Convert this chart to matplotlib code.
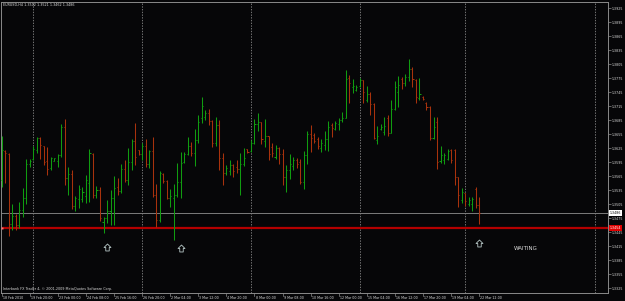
import matplotlib
matplotlib.use("Agg")
import matplotlib.pyplot as plt
import matplotlib.transforms as mtransforms
from matplotlib.path import Path

# EURUSD H4 bars, 18 Feb - 22 Mar 2010
title_text = "EURUSD,H4 1.3502 1.3521 1.3462 1.3486"
copyright_text = "Interbank FX Trader 4, \u00a9 2001-2009 MetaQuotes Software Corp."

opens = [1.3556, 1.3619, 1.3612, 1.3462, 1.3480, 1.3460, 1.3492, 1.3518, 1.3591, 1.3601,
         1.3620, 1.3646, 1.3629, 1.3598, 1.3582, 1.3598, 1.3598, 1.3610, 1.3670, 1.3561,
         1.3570, 1.3500, 1.3515, 1.3515, 1.3522, 1.3550, 1.3612, 1.3525, 1.3535, 1.3466,
         1.3475, 1.3490, 1.3518, 1.3541, 1.3532, 1.3580, 1.3556, 1.3596, 1.3640, 1.3620,
         1.3612, 1.3630, 1.3590, 1.3618, 1.3524, 1.3470, 1.3569, 1.3555, 1.3518, 1.3518,
         1.3525, 1.3552, 1.3595, 1.3612, 1.3630, 1.3614, 1.3642, 1.3690, 1.3692, 1.3700,
         1.3683, 1.3636, 1.3674, 1.3604, 1.3571, 1.3575, 1.3588, 1.3585, 1.3580, 1.3590,
         1.3622, 1.3618, 1.3636, 1.3676, 1.3680, 1.3640, 1.3650, 1.3628, 1.3606, 1.3625,
         1.3612, 1.3562, 1.3578, 1.3586, 1.3600, 1.3596, 1.3552, 1.3610, 1.3656, 1.3652,
         1.3645, 1.3626, 1.3631, 1.3645, 1.3674, 1.3666, 1.3676, 1.3684, 1.3690, 1.3775,
         1.3755, 1.3750, 1.3758, 1.3770, 1.3728, 1.3740, 1.3720, 1.3642, 1.3666, 1.3660,
         1.3690, 1.3657, 1.3708, 1.3745, 1.3772, 1.3764, 1.3778, 1.3795, 1.3771, 1.3732,
         1.3735, 1.3722, 1.3712, 1.3646, 1.3680, 1.3598, 1.3600, 1.3601, 1.3621, 1.3620,
         1.3562, 1.3514, 1.3528, 1.3506, 1.3506, 1.3538, 1.3502]
highs = [1.3651, 1.3621, 1.3614, 1.3505, 1.3484, 1.3509, 1.3539, 1.3601, 1.3601, 1.3629,
         1.3649, 1.3649, 1.3629, 1.3627, 1.3606, 1.3604, 1.3612, 1.3676, 1.3687, 1.3584,
         1.3578, 1.3522, 1.3546, 1.3541, 1.3567, 1.3623, 1.3614, 1.3544, 1.3541, 1.3477,
         1.3514, 1.3535, 1.3565, 1.3561, 1.3591, 1.3599, 1.3625, 1.3644, 1.3679, 1.3621,
         1.3636, 1.3644, 1.3621, 1.3649, 1.3548, 1.3576, 1.3571, 1.3556, 1.3537, 1.3548,
         1.3593, 1.3616, 1.3616, 1.3649, 1.3638, 1.3666, 1.3696, 1.3734, 1.3706, 1.3709,
         1.3685, 1.3691, 1.3685, 1.3614, 1.3589, 1.3599, 1.3591, 1.3599, 1.3614, 1.3625,
         1.3623, 1.3642, 1.3687, 1.3700, 1.3681, 1.3687, 1.3651, 1.3636, 1.3632, 1.3627,
         1.3623, 1.3589, 1.3612, 1.3606, 1.3604, 1.3601, 1.3619, 1.3661, 1.3674, 1.3657,
         1.3649, 1.3644, 1.3661, 1.3683, 1.3679, 1.3683, 1.3689, 1.3702, 1.3792, 1.3781,
         1.3773, 1.3760, 1.3775, 1.3771, 1.3758, 1.3745, 1.3721, 1.3672, 1.3676, 1.3691,
         1.3696, 1.3728, 1.3769, 1.3779, 1.3777, 1.3784, 1.3816, 1.3799, 1.3773, 1.3775,
         1.3736, 1.3724, 1.3715, 1.3691, 1.3691, 1.3629, 1.3614, 1.3623, 1.3623, 1.3623,
         1.3563, 1.3539, 1.3529, 1.3520, 1.3520, 1.3541, 1.3521]
lows = [1.3542, 1.3550, 1.3437, 1.3449, 1.3449, 1.3454, 1.3477, 1.3505, 1.3584, 1.3599,
        1.3614, 1.3601, 1.3589, 1.3567, 1.3578, 1.3597, 1.3584, 1.3606, 1.3546, 1.3524,
        1.3494, 1.3490, 1.3496, 1.3509, 1.3507, 1.3509, 1.3518, 1.3518, 1.3469, 1.3443,
        1.3464, 1.3460, 1.3460, 1.3524, 1.3529, 1.3552, 1.3546, 1.3578, 1.3589, 1.3610,
        1.3599, 1.3584, 1.3582, 1.3520, 1.3456, 1.3466, 1.3550, 1.3516, 1.3499, 1.3428,
        1.3520, 1.3518, 1.3593, 1.3610, 1.3608, 1.3586, 1.3636, 1.3679, 1.3685, 1.3674,
        1.3627, 1.3629, 1.3578, 1.3546, 1.3567, 1.3567, 1.3563, 1.3571, 1.3524, 1.3586,
        1.3614, 1.3616, 1.3634, 1.3661, 1.3634, 1.3627, 1.3599, 1.3606, 1.3601, 1.3591,
        1.3546, 1.3531, 1.3559, 1.3578, 1.3582, 1.3548, 1.3537, 1.3591, 1.3616, 1.3636,
        1.3623, 1.3616, 1.3621, 1.3619, 1.3649, 1.3664, 1.3664, 1.3681, 1.3689, 1.3721,
        1.3743, 1.3747, 1.3756, 1.3721, 1.3724, 1.3696, 1.3644, 1.3634, 1.3664, 1.3653,
        1.3651, 1.3657, 1.3706, 1.3713, 1.3751, 1.3758, 1.3769, 1.3756, 1.3721, 1.3728,
        1.3728, 1.3706, 1.3642, 1.3644, 1.3580, 1.3593, 1.3591, 1.3599, 1.3593, 1.3546,
        1.3499, 1.3507, 1.3501, 1.3501, 1.3490, 1.3496, 1.3462]
closes = [1.3621, 1.3614, 1.3462, 1.3480, 1.3460, 1.3492, 1.3518, 1.3591, 1.3597, 1.3622,
          1.3647, 1.3631, 1.3595, 1.3580, 1.3603, 1.3603, 1.3610, 1.3671, 1.3561, 1.3570,
          1.3500, 1.3517, 1.3538, 1.3530, 1.3556, 1.3614, 1.3524, 1.3535, 1.3475, 1.3475,
          1.3490, 1.3518, 1.3540, 1.3532, 1.3580, 1.3556, 1.3596, 1.3640, 1.3606, 1.3612,
          1.3630, 1.3590, 1.3618, 1.3524, 1.3470, 1.3571, 1.3555, 1.3518, 1.3523, 1.3525,
          1.3552, 1.3593, 1.3612, 1.3630, 1.3614, 1.3642, 1.3680, 1.3715, 1.3700, 1.3682,
          1.3636, 1.3674, 1.3604, 1.3571, 1.3583, 1.3588, 1.3575, 1.3580, 1.3590, 1.3604,
          1.3616, 1.3636, 1.3676, 1.3680, 1.3645, 1.3650, 1.3612, 1.3614, 1.3625, 1.3612,
          1.3562, 1.3578, 1.3590, 1.3600, 1.3590, 1.3552, 1.3610, 1.3656, 1.3646, 1.3640,
          1.3630, 1.3636, 1.3645, 1.3670, 1.3668, 1.3678, 1.3684, 1.3690, 1.3773, 1.3765,
          1.3758, 1.3756, 1.3770, 1.3745, 1.3740, 1.3720, 1.3647, 1.3650, 1.3670, 1.3672,
          1.3657, 1.3708, 1.3756, 1.3760, 1.3764, 1.3778, 1.3795, 1.3773, 1.3735, 1.3740,
          1.3730, 1.3712, 1.3646, 1.3670, 1.3595, 1.3610, 1.3610, 1.3618, 1.3600, 1.3562,
          1.3525, 1.3530, 1.3512, 1.3514, 1.3516, 1.3502, 1.3486]

date_labels = ["18 Feb 2010", "19 Feb 20:00", "23 Feb 00:00", "24 Feb 08:00", "25 Feb 16:00",
               "26 Feb 20:00", "2 Mar 04:00", "3 Mar 12:00", "4 Mar 20:00", "8 Mar 00:00",
               "9 Mar 08:00", "10 Mar 16:00", "12 Mar 00:00", "15 Mar 04:00", "16 Mar 12:00",
               "17 Mar 20:00", "19 Mar 04:00", "22 Mar 12:00"]
date_bars = [0, 8, 16, 24, 32, 40, 48, 56, 64, 72, 80, 88, 96, 104, 112, 120, 128, 136]
separator_bars = [9, 40, 71, 102, 132, 169]
price_ticks = [1.3925, 1.3895, 1.3865, 1.3835, 1.3805, 1.3775, 1.3745, 1.3715, 1.3685,
               1.3655, 1.3625, 1.3595, 1.3565, 1.3535, 1.3505, 1.3475, 1.3445, 1.3415,
               1.3385, 1.3355, 1.3325]
bid_price = 1.3486
level_price = 1.3454
arrow_bars = [30, 51, 136]
arrow_prices = [1.3413, 1.3411, 1.3421]
status_bar = 146
status_price = 1.3410
status_text = "WAITING"

bg = "#060608"
up_col = "#109c10"
dn_col = "#a8320c"
frame_col = "#8a8a8a"
txt_col = "#dcdcdc"

# outlined "up" arrow, like the MT4 arrow object
arrow_marker = Path([(-0.25, -0.5), (-0.25, 0.0), (-0.5, 0.0), (0.0, 0.5),
                     (0.5, 0.0), (0.25, 0.0), (0.25, -0.5), (-0.25, -0.5)],
                    [Path.MOVETO] + [Path.LINETO] * 6 + [Path.CLOSEPOLY])

fig = plt.figure(figsize=(6.25, 3.01), dpi=100, facecolor=bg)
ax = fig.add_axes([1 / 625, 8 / 301, 607 / 625, 291 / 301], facecolor=bg)
ax.set_xlim(-0.2, 172.7)
ax.set_ylim(1.33143, 1.39379)

# period separators
for s in separator_bars:
    ax.axvline(s, color="#767676", lw=0.7, ls=(0, (1.4, 1.4)), zorder=1)

# bid line and red level
ax.axhline(bid_price, color="#7c7c7c", lw=0.7, zorder=2)
ax.axhline(level_price, color="#b40000", lw=1.6, zorder=2)
ax.plot([0.1], [level_price], marker="s", ms=1.8, color="#ff7070", mec="none", zorder=3, clip_on=False)

# OHLC bars
xs = list(range(len(opens)))
cols = [up_col if c >= o else dn_col for o, c in zip(opens, closes)]
ax.vlines(xs, lows, highs, colors=cols, lw=0.75, zorder=4)
ax.hlines(opens, [x - 0.3 for x in xs], xs, colors=cols, lw=0.75, zorder=4)
ax.hlines(closes, xs, [x + 0.3 for x in xs], colors=cols, lw=0.75, zorder=4)

# arrow objects + status text
ax.plot(arrow_bars, arrow_prices, ls="none", marker=arrow_marker, ms=5, mfc="none",
        mec="#b8c8c8", mew=0.6, zorder=5)
ax.text(status_bar, status_price, status_text, color=txt_col, fontsize=4, ha="left", va="center", zorder=5)

# frame
for sp in ax.spines.values():
    sp.set_color(frame_col)
    sp.set_linewidth(0.7)

# right price scale
ax.yaxis.tick_right()
ax.set_yticks(price_ticks)
ax.set_yticklabels(["%.4f" % p for p in price_ticks])
ax.tick_params(axis="y", length=2, width=0.5, colors=frame_col, labelcolor=txt_col,
               labelsize=2.3, pad=1)
ax.set_xticks([])

box_tr = mtransforms.blended_transform_factory(ax.transAxes, ax.transData)
ax.text(1.003, bid_price, "%.4f" % bid_price, transform=box_tr, fontsize=2.3, color="black",
        ha="left", va="center", zorder=6, clip_on=False,
        bbox=dict(boxstyle="square,pad=0.35", fc="white", ec="none"))
ax.text(1.003, level_price, "%.4f" % level_price, transform=box_tr, fontsize=2.3, color="white",
        ha="left", va="center", zorder=6, clip_on=False,
        bbox=dict(boxstyle="square,pad=0.35", fc="#e00000", ec="none"))

# date scale under the chart
date_tr = mtransforms.blended_transform_factory(ax.transData, ax.transAxes)
for b, lab in zip(date_bars, date_labels):
    ax.plot([b, b], [0, -0.012], color=frame_col, lw=0.5, transform=date_tr, clip_on=False)
    ax.text(b + 0.3, -0.016, lab, transform=date_tr, fontsize=2.3, color=txt_col,
            ha="left", va="center", clip_on=False)

# header and copyright texts
ax.text(0.003, 0.989, title_text, transform=ax.transAxes, fontsize=2.4, color=txt_col,
        ha="left", va="center")
ax.text(0.003, 0.013, copyright_text, transform=ax.transAxes, fontsize=2.4, color=txt_col,
        ha="left", va="center")

fig.savefig("out.png", dpi=100, facecolor=bg)
